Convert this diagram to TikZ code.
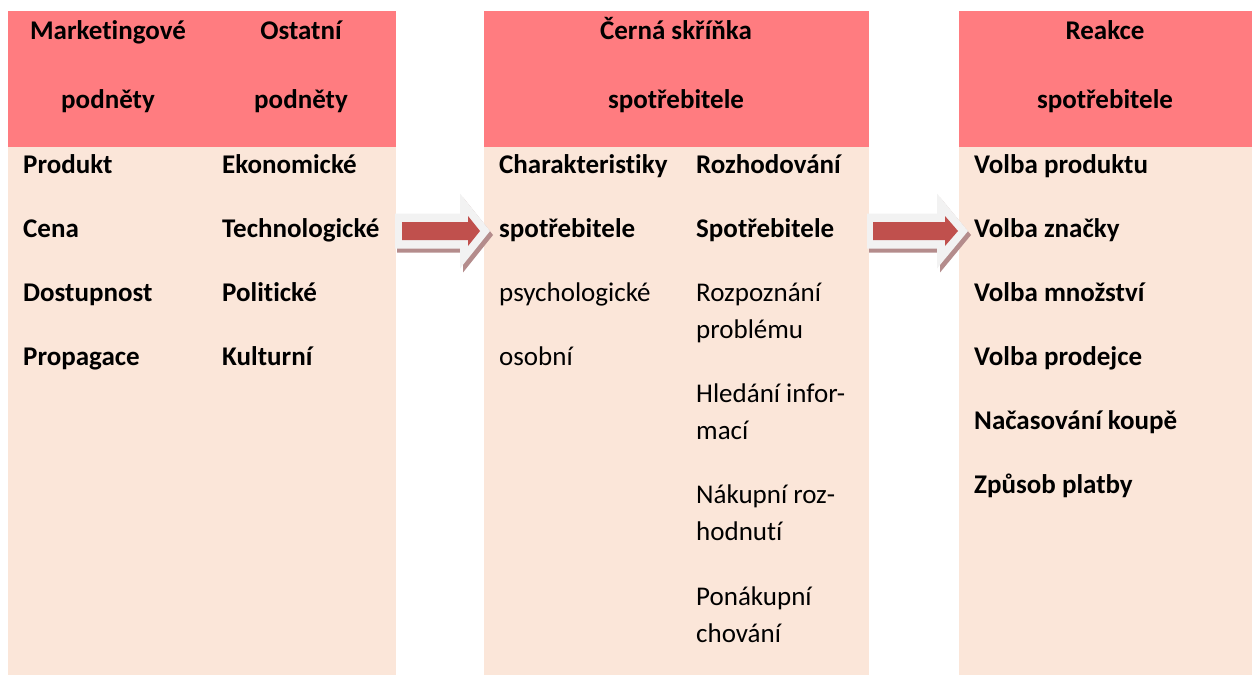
\documentclass[tikz,border=0pt]{standalone}
\usepackage{fontspec}
\setmainfont{Carlito}[Ligatures=NoCommon]
\definecolor{headred}{HTML}{FF7C80}
\definecolor{bodypeach}{HTML}{FBE6D9}
\definecolor{arrowred}{HTML}{C0504D}
\definecolor{arrowrim}{HTML}{F2F2F2}
\definecolor{arrowshade}{HTML}{B48C8C}
\newcommand{\txtsize}{\fontsize{27}{32}\selectfont}
\begin{document}
\begin{tikzpicture}[x=1pt,y=-1pt,
  headbox/.style={fill=headred, draw=none, anchor=north west, inner sep=0pt, minimum height=136pt},
  bodybox/.style={fill=bodypeach, draw=none, anchor=north west, inner sep=0pt, minimum height=528pt},
  ttl/.style={font=\txtsize\bfseries, anchor=base, inner sep=0pt},
  itm/.style={font=\txtsize, anchor=base west, inner sep=0pt},
  bitm/.style={font=\txtsize\bfseries, anchor=base west, inner sep=0pt},
]
\useasboundingbox (0,0) rectangle (1256,675);

% panels: headers and bodies
\node[headbox, minimum width=388pt] (h1) at (8,11) {};
\node[bodybox, minimum width=388pt] (b1) at (8,147) {};
\node[headbox, minimum width=385pt] (h2) at (484,11) {};
\node[bodybox, minimum width=385pt] (b2) at (484,147) {};
\node[headbox, minimum width=293pt] (h3) at (959,11) {};
\node[bodybox, minimum width=293pt] (b3) at (959,147) {};

% header titles
\node[ttl] (t1a) at (108,39) {Marketingové};
\node[ttl] (t1b) at (108,108) {podněty};
\node[ttl] (t2a) at (301,39) {Ostatní};
\node[ttl] (t2b) at (301,108) {podněty};
\node[ttl] (t3a) at (676,39) {Černá skříňka};
\node[ttl] (t3b) at (676,108) {spotřebitele};
\node[ttl] (t4a) at (1105,39) {Reakce};
\node[ttl] (t4b) at (1105,108) {spotřebitele};

% marketing and other stimuli
\node[bitm] (m1) at (23,173) {Produkt};
\node[bitm] (m2) at (23,237) {Cena};
\node[bitm] (m3) at (23,301) {Dostupnost};
\node[bitm] (m4) at (23,365) {Propagace};
\node[bitm] (o1) at (222,173) {Ekonomické};
\node[bitm] (o2) at (222,237) {Technologické};
\node[bitm] (o3) at (222,301) {Politické};
\node[bitm] (o4) at (222,365) {Kulturní};

% black box of the buyer
\node[bitm] (c1) at (499,173) {Charakteristiky};
\node[bitm] (c2) at (499,237) {spotřebitele};
\node[itm]  (c3) at (499,301) {psychologické};
\node[itm]  (c4) at (499,365) {osobní};
\node[bitm] (r1) at (696,173) {Rozhodování};
\node[bitm] (r2) at (696,237) {Spotřebitele};
\node[itm]  (r3) at (696,301) {Rozpoznání};
\node[itm]  (r3b) at (696,338) {problému};
\node[itm]  (r4) at (696,402) {Hledání infor-};
\node[itm]  (r4b) at (696,439) {mací};
\node[itm]  (r5) at (696,503) {Nákupní roz-};
\node[itm]  (r5b) at (696,540) {hodnutí};
\node[itm]  (r6) at (696,605) {Ponákupní};
\node[itm]  (r6b) at (696,642) {chování};

% buyer responses
\node[bitm] (v1) at (974,173) {Volba produktu};
\node[bitm] (v2) at (974,237) {Volba značky};
\node[bitm] (v3) at (974,301) {Volba množství};
\node[bitm] (v4) at (974,365) {Volba prodejce};
\node[bitm] (v5) at (974,429) {Načasování koupě};
\node[bitm] (v6) at (974,493) {Způsob platby};

% block arrows between the panels: shadow, light rim, red core
\foreach \xl/\xh/\xt/\rl/\rh/\rt in {395/460/490/402/468/480, 867/937/968/873/945/958}{
  \fill[arrowshade] (\xl+2,231-17.5+4) -- (\xh+3,231-17.5+4) -- (\xh+3,231-37.5+4)
        -- (\xt+3,231+4) -- (\xh+3,231+37.5+4) -- (\xh+3,231+17.5+4) -- (\xl+2,231+17.5+4) -- cycle;
  \fill[arrowrim] (\xl,231-17.5) -- (\xh,231-17.5) -- (\xh,231-37.5)
        -- (\xt,231) -- (\xh,231+37.5) -- (\xh,231+17.5) -- (\xl,231+17.5) -- cycle;
  \fill[arrowred] (\rl,231-9) -- (\rh,231-9) -- (\rh,231-15)
        -- (\rt,231) -- (\rh,231+15) -- (\rh,231+9) -- (\rl,231+9) -- cycle;
}
\end{tikzpicture}
\end{document}
